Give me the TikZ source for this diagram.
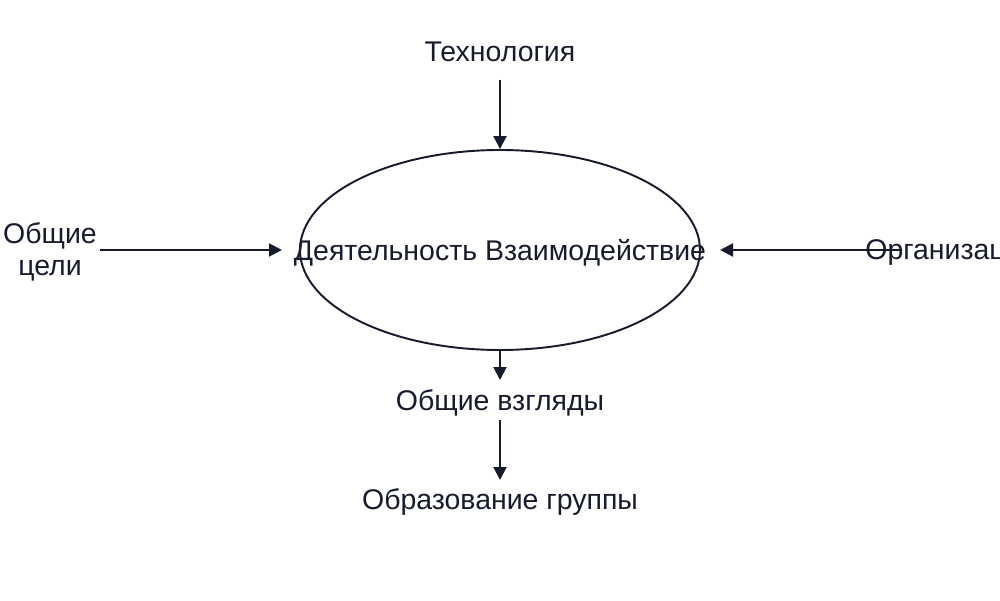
\documentclass[tikz,border=0pt]{standalone}
\usepackage{fontspec}
\setmainfont{Liberation Sans}
\usetikzlibrary{arrows.meta,shapes.geometric,positioning}
\definecolor{ink}{HTML}{161B2E}
\begin{document}
\begin{tikzpicture}
    \tikzstyle{label} = [text=ink, font=\fontsize{16.2pt}{18pt}\selectfont, inner sep=0pt, align=center];
    \tikzstyle{flow} = [draw=ink, line width=1.1pt, -{Triangle[length=2.6mm,width=2.6mm]}];

    \clip (0,0) rectangle (20,12);
    \useasboundingbox (0,0) rectangle (20,12);

    \node[ellipse, draw=ink, line width=1.1pt, minimum width=8cm, minimum height=4cm](E) at (10,7) {};
    \node[label](D) at (10,6.94) {Деятельность Взаимодействие};
    \node[label](T) at (10,10.96) {Технология};
    \node[label](G) at (1,6.96) {Общие\\цели};
    \node[label, anchor=west](O) at (17.3,6.94) {Организация};
    \node[label](V) at (10,3.94) {Общие взгляды};
    \node[label](F) at (10,1.96) {Образование группы};

    \coordinate (Tb) at (10,10.4);
    \coordinate (Gr) at (2,7);
    \coordinate (Ga) at (5.64,7);
    \coordinate (Or) at (18,7);
    \coordinate (Ea) at (14.4,7);
    \coordinate (Vt) at (10,4.4);
    \coordinate (Vb) at (10,3.6);
    \coordinate (Ft) at (10,2.4);

    \draw[flow] (Tb) -- (E.north);
    \draw[flow] (Gr) -- (Ga);
    \draw[flow] (Or) -- (Ea);
    \draw[flow] (E.south) -- (Vt);
    \draw[flow] (Vb) -- (Ft);
\end{tikzpicture}
\end{document}
